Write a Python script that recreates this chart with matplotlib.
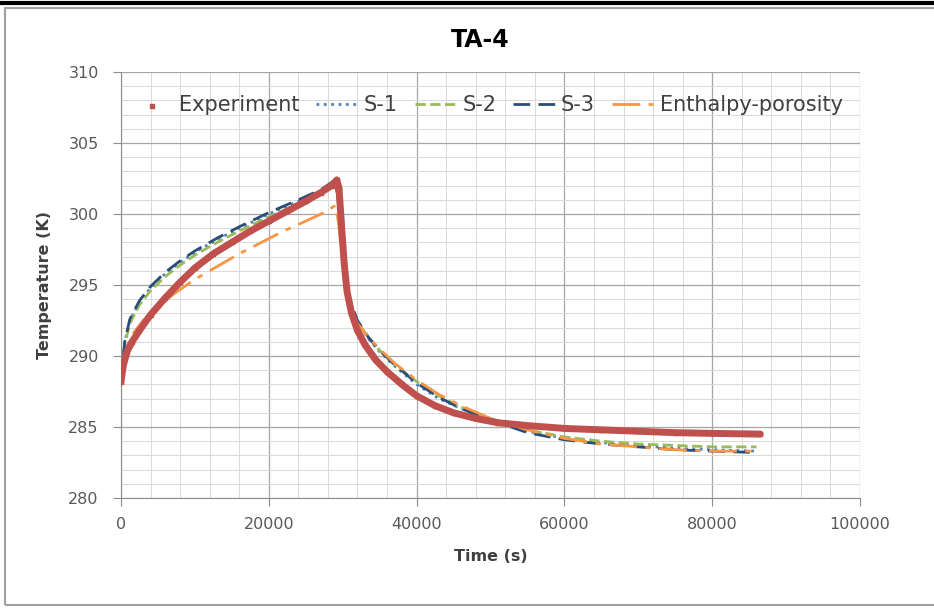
import numpy as np
import matplotlib
matplotlib.use("Agg")
from matplotlib import pyplot as plt
from matplotlib.ticker import MultipleLocator
from matplotlib.patches import Rectangle
from matplotlib.lines import Line2D

plt.rcParams['font.family'] = ['DejaVu Sans']

# experiment
exp_t = [0, 300, 800, 1500, 2500, 4000, 6000, 8000, 10000, 12500, 15000, 17500,
         20000, 22500, 25000, 27000, 28500, 29200, 29500, 29800, 30200, 30600,
         31200, 32000, 33000, 34500, 36000, 38000, 40000, 42500, 45000, 48000,
         51000, 55000, 60000, 65000, 70000, 75000, 80000, 86500]
exp_T = [288.2, 289.3, 290.3, 291.0, 291.8, 292.9, 294.1, 295.2, 296.2, 297.2,
         298.0, 298.8, 299.5, 300.2, 300.9, 301.5, 302.0, 302.4, 301.8, 299.5,
         296.5, 294.5, 293.0, 291.8, 290.8, 289.7, 288.9, 288.0, 287.2, 286.5,
         286.0, 285.6, 285.3, 285.1, 284.9, 284.8, 284.7, 284.6, 284.55, 284.5]

sim_t = [0, 500, 1200, 2500, 4000, 6000, 8000, 10000, 13000, 16000, 20000, 24000,
         27000, 29000, 29400, 29800, 30300, 31000, 32000, 33500, 35000, 37000,
         40000, 43000, 46000, 50000, 55000, 60000, 65000, 70000, 75000, 80000, 86000]
s1_T = [288.2, 291.0, 292.5, 293.8, 294.8, 295.8, 296.6, 297.3, 298.2, 299.0,
        300.0, 300.9, 301.6, 302.3, 301.0, 298.0, 295.5, 293.8, 292.4, 291.2,
        290.3, 289.3, 288.0, 287.0, 286.3, 285.5, 284.7, 284.2, 283.9, 283.7,
        283.5, 283.4, 283.3]
s2_T = [288.2, 290.8, 292.3, 293.6, 294.6, 295.6, 296.4, 297.1, 298.0, 298.8,
        299.8, 300.7, 301.4, 302.1, 300.8, 297.8, 295.3, 293.7, 292.4, 291.3,
        290.4, 289.4, 288.2, 287.2, 286.4, 285.6, 284.8, 284.3, 284.0, 283.8,
        283.7, 283.6, 283.6]
s3_T = [288.2, 291.0, 292.6, 293.9, 294.9, 295.9, 296.7, 297.4, 298.3, 299.1,
        300.1, 301.0, 301.7, 302.4, 301.1, 298.1, 295.6, 293.9, 292.5, 291.3,
        290.4, 289.4, 288.1, 287.1, 286.3, 285.5, 284.6, 284.1, 283.8, 283.6,
        283.4, 283.3, 283.2]
ep_t = [0, 500, 1500, 3000, 5000, 7500, 10000, 13000, 16000, 19000, 22000, 25000,
        27500, 29000, 29400, 29800, 30300, 31000, 32000, 33500, 35000, 37000,
        40000, 43000, 46000, 50000, 55000, 60000, 65000, 70000, 75000, 80000, 86000]
ep_T = [288.2, 290.3, 291.5, 292.5, 293.5, 294.5, 295.4, 296.3, 297.2, 298.0,
        298.8, 299.5, 300.1, 300.6, 299.5, 297.5, 295.0, 293.5, 292.3, 291.3,
        290.5, 289.5, 288.3, 287.3, 286.5, 285.6, 284.8, 284.2, 283.8, 283.6,
        283.4, 283.3, 283.3]

red = '#C0504D'
c_s1 = '#4F81BD'
c_s2 = '#9BBB59'
c_s3 = '#2C4D75'
c_ep = '#F79646'
txt = '#404040'

fig = plt.figure(figsize=(9.34, 6.1), dpi=100)
# chart area border and the black line on top of the screenshot
fig.patches.append(Rectangle((5/934, 5/610), 1.0, 597/610, transform=fig.transFigure,
                             fill=False, edgecolor='#A0A0A0', lw=1.5))
fig.add_artist(Line2D([0, 1], [1-3/610, 1-3/610], transform=fig.transFigure,
                      color='black', lw=3))

ax = fig.add_axes([121/934, 1-498/610, 739/934, 426/610])

ax.plot(sim_t, s1_T, ls=':', color=c_s1, lw=2, label='S-1')
ax.plot(sim_t, s2_T, ls='--', color=c_s2, lw=2, label='S-2')
ax.plot(sim_t, s3_T, color=c_s3, lw=2, dashes=[6, 3], label='S-3')
ax.plot(ep_t, ep_T, color=c_ep, lw=2, dashes=[10, 3, 2, 3], label='Enthalpy-porosity')
ax.plot(exp_t, exp_T, color=red, lw=5, solid_capstyle='round', zorder=3)
ax.scatter(exp_t, exp_T, marker='s', s=12, color=red, zorder=4, label='Experiment')

ax.set_xlim(0, 100000)
ax.set_ylim(280, 310)
ax.xaxis.set_major_locator(MultipleLocator(20000))
ax.xaxis.set_minor_locator(MultipleLocator(4000))
ax.yaxis.set_major_locator(MultipleLocator(5))
ax.yaxis.set_minor_locator(MultipleLocator(1))
ax.grid(which='major', color='#A6A6A6', lw=0.9)
ax.grid(which='minor', color='#D9D9D9', lw=0.7)
ax.set_axisbelow(True)
for s in ['top', 'right']:
    ax.spines[s].set_visible(False)
for s in ['left', 'bottom']:
    ax.spines[s].set_color('#8C8C8C')
ax.tick_params(which='major', direction='out', length=6, color='#8C8C8C',
               labelsize=11.5, labelcolor='#595959')
ax.tick_params(which='minor', length=0)
ax.tick_params(axis='x', pad=8)
ax.tick_params(axis='y', pad=10)

ax.set_xlabel('Time (s)', fontsize=11.5, fontweight='bold', color=txt, labelpad=12)
ax.set_ylabel('Temperature (K)', fontsize=11.5, fontweight='bold', color=txt, labelpad=12)
fig.text(480/934, 1-40/610, 'TA-4', fontsize=17, fontweight='bold', color='black',
         ha='center', va='center')

h, l = ax.get_legend_handles_labels()
order = [4, 0, 1, 2, 3]
ax.legend([h[i] for i in order], [l[i] for i in order], ncol=5, frameon=False,
          loc='center', bbox_to_anchor=(0.495, 0.922), fontsize=15, handlelength=2.0,
          columnspacing=0.8, handletextpad=0.3, labelcolor=txt)

plt.savefig('out.png', dpi=100)
